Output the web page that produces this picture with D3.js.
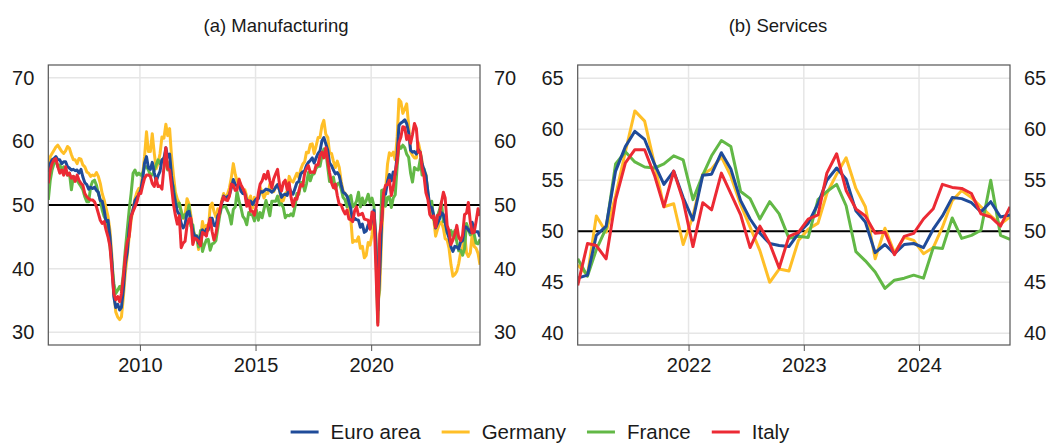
<!DOCTYPE html>
<html>
<head>
<meta charset="utf-8">
<script src="https://cdn.jsdelivr.net/npm/d3@7"></script>
<style>
  body { margin: 0; background: #fff; }
  svg { display: block; font-family: "Liberation Sans", Arial, sans-serif; }
</style>
</head>
<body>
<svg id="chart" width="1049" height="444"></svg>
<script>
// series names and colours (legend order)
var seriesNames = ["Euro area", "Germany", "France", "Italy"];
var seriesColors = ["#1f4b99", "#ffbf27", "#62b846", "#ec2a34"];

// (a) Manufacturing PMI, monthly from Jan 2006
var mfgStart = new Date(2006, 0, 15);
var mfgEuroArea = [
  55.2, 56.5, 57.1, 57.3, 57.6, 57.1, 57.1, 56.5, 56.8, 56.8, 56.0, 55.8,
  55.5, 55.6, 55.4, 55.5, 55.0, 55.6, 54.4, 53.5, 53.2, 52.5, 52.8, 52.6,
  52.8, 52.3, 52.0, 50.7, 50.6, 49.2, 47.4, 47.6, 45.0, 41.1, 35.6, 33.9,
  34.4, 33.5, 33.9, 36.8, 40.7, 42.6, 46.3, 48.2, 49.3, 50.7, 51.2, 51.6,
  52.4, 54.2, 56.6, 57.6, 55.8, 55.6, 56.7, 55.1, 53.7, 54.6, 55.3, 57.1,
  57.3, 59.0, 57.5, 58.0, 54.6, 52.0, 50.4, 49.0, 48.5, 47.1, 46.4, 46.9,
  48.8, 49.0, 47.7, 45.9, 45.1, 45.1, 44.0, 45.1, 46.1, 45.4, 46.2, 46.1,
  47.9, 47.9, 46.8, 46.7, 48.3, 48.8, 50.3, 51.4, 51.1, 51.3, 51.6, 52.7,
  54.0, 53.2, 53.0, 53.4, 52.2, 51.8, 51.8, 50.7, 50.3, 50.6, 50.1, 50.6,
  51.0, 51.0, 52.2, 52.0, 52.2, 52.5, 52.4, 52.3, 52.0, 52.3, 52.8, 53.2,
  52.3, 51.2, 51.6, 51.7, 51.5, 52.8, 52.0, 51.7, 52.6, 53.5, 53.7, 54.9,
  55.2, 55.4, 56.2, 56.7, 57.0, 57.4, 56.6, 57.4, 58.1, 58.5, 60.1, 60.6,
  59.6, 58.6, 56.6, 56.2, 55.5, 54.9, 55.1, 54.6, 53.2, 52.0, 51.8, 51.4,
  50.5, 49.3, 47.5, 47.9, 47.7, 47.6, 46.5, 47.0, 45.7, 45.9, 46.9, 46.3,
  47.9, 49.2, 44.5, 33.4, 39.4, 47.4, 51.8, 51.7, 53.7, 54.8, 53.8, 55.2,
  54.8, 57.9, 62.5, 62.9, 63.1, 63.4, 62.8, 61.4, 58.6, 58.3, 58.4, 58.0,
  58.7, 58.2, 56.5, 55.5, 54.6, 52.1, 49.8, 49.6, 48.4, 46.4, 47.1, 47.8,
  48.8, 48.5, 47.3, 45.8, 44.8, 43.4, 42.7, 43.5, 43.4, 43.1, 44.2, 44.4,
  46.6, 46.5, 46.1, 45.7, 47.3, 45.8, 45.8, 45.8, 45.0
];
var mfgGermany = [
  56.0, 57.6, 58.1, 58.6, 59.1, 59.4, 58.9, 58.4, 58.1, 58.5, 59.2, 58.9,
  57.9, 57.1, 57.1, 56.5, 57.3, 57.2, 56.3, 56.0, 55.2, 55.0, 54.5, 54.7,
  54.6, 55.1, 54.5, 53.4, 51.8, 50.8, 49.5, 48.2, 46.0, 42.0, 36.5, 33.2,
  32.4, 32.0, 32.4, 35.6, 39.3, 42.0, 45.0, 47.6, 49.4, 51.0, 52.0, 52.6,
  52.7, 55.0, 57.6, 61.5, 58.4, 58.4, 61.2, 58.2, 55.7, 56.6, 58.1, 60.7,
  60.5, 62.7, 60.9, 62.0, 57.7, 54.6, 52.0, 50.9, 50.3, 49.1, 47.9, 48.4,
  51.0, 50.2, 48.4, 46.2, 45.2, 45.0, 43.0, 44.7, 47.4, 46.0, 46.8, 46.0,
  49.8, 50.3, 49.0, 48.1, 49.4, 48.6, 50.7, 51.8, 51.1, 51.7, 52.7, 54.3,
  56.5, 54.8, 53.7, 54.1, 52.3, 52.0, 52.4, 51.4, 49.9, 51.4, 49.5, 51.2,
  50.9, 51.1, 52.8, 52.0, 51.1, 51.9, 51.8, 53.3, 52.3, 52.1, 52.9, 53.2,
  52.3, 50.5, 50.7, 51.8, 52.1, 54.5, 53.8, 53.6, 54.3, 55.0, 54.3, 55.6,
  56.4, 56.8, 58.3, 58.2, 59.5, 59.6, 58.1, 59.3, 60.6, 60.6, 62.5, 63.3,
  61.1, 60.6, 58.2, 58.1, 56.9, 55.9, 56.9, 55.9, 53.7, 52.2, 51.8, 51.5,
  49.7, 47.6, 44.1, 44.4, 44.3, 45.0, 43.2, 43.5, 41.7, 42.1, 44.1, 43.7,
  45.3, 48.0, 45.4, 34.5, 36.6, 45.2, 51.0, 52.2, 56.4, 58.2, 57.8, 58.3,
  57.1, 60.7, 66.6, 66.2, 64.4, 65.1, 65.9, 62.6, 58.4, 57.8, 57.4, 57.4,
  59.8, 58.4, 56.9, 54.6, 54.8, 52.0, 49.3, 49.1, 47.8, 45.1, 46.2, 47.1,
  47.3, 46.3, 44.7, 44.5, 43.2, 40.6, 38.8, 39.1, 39.6, 40.8, 42.6, 43.3,
  45.5, 42.5, 41.9, 42.5, 45.4, 43.5, 43.2, 42.4, 40.6
];
var mfgFrance = [
  50.8, 53.9, 55.5, 56.5, 57.1, 56.0, 56.3, 55.5, 56.0, 55.2, 54.7, 55.0,
  52.4, 54.5, 54.2, 53.9, 53.4, 52.9, 52.4, 51.3, 50.5, 50.5, 52.9, 53.7,
  53.9, 53.1, 51.8, 50.8, 49.2, 48.2, 47.6, 46.1, 43.5, 40.8, 37.7, 36.1,
  36.6, 37.2, 36.6, 39.3, 42.9, 46.1, 49.2, 51.8, 55.0, 55.5, 54.7, 55.0,
  54.7, 55.0, 56.0, 56.0, 55.5, 54.7, 54.7, 55.5, 56.3, 57.1, 56.5, 57.0,
  57.4, 56.5, 55.5, 56.8, 53.8, 52.9, 50.8, 49.7, 50.3, 48.9, 48.0, 48.5,
  48.5, 50.0, 46.7, 46.9, 44.7, 45.2, 43.4, 46.0, 42.7, 43.7, 44.5, 44.6,
  42.9, 43.9, 44.0, 44.4, 46.4, 48.4, 49.7, 49.7, 49.8, 49.1, 48.4, 47.0,
  49.3, 49.7, 52.1, 50.6, 49.6, 48.2, 47.8, 46.9, 48.8, 48.5, 48.4, 47.5,
  49.2, 47.6, 48.8, 48.0, 49.4, 50.7, 49.6, 48.3, 50.6, 50.6, 50.6, 51.4,
  50.0, 50.2, 49.6, 48.0, 48.4, 48.3, 48.6, 48.3, 49.7, 51.8, 51.7, 53.5,
  53.6, 52.2, 53.3, 55.1, 53.8, 54.8, 54.9, 55.8, 56.1, 56.1, 57.7, 58.8,
  58.4, 55.9, 53.7, 53.8, 54.4, 52.5, 53.3, 53.5, 52.5, 51.2, 50.8, 49.7,
  51.2, 51.5, 49.7, 50.0, 50.6, 52.0, 49.7, 51.1, 50.1, 50.7, 51.7, 50.4,
  51.1, 49.8, 43.2, 31.5, 40.6, 52.3, 52.4, 49.8, 51.2, 51.3, 49.6, 51.1,
  51.6, 56.1, 59.3, 58.9, 59.4, 59.0, 58.0, 57.5, 55.0, 53.6, 55.9, 55.6,
  55.5, 57.2, 54.7, 55.7, 54.6, 51.4, 49.5, 50.6, 47.7, 47.2, 48.3, 49.2,
  50.5, 47.4, 47.3, 45.6, 45.7, 46.0, 45.1, 46.0, 44.2, 42.8, 42.9, 42.1,
  43.1, 47.1, 46.2, 45.3, 46.4, 45.4, 44.0, 43.9, 44.6
];
var mfgItaly = [
  53.4, 55.5, 56.5, 57.1, 57.3, 56.0, 55.0, 55.5, 54.7, 56.0, 54.7, 55.0,
  54.2, 54.5, 53.7, 54.7, 53.9, 53.4, 53.1, 51.8, 51.3, 51.0, 50.8, 50.8,
  50.5, 49.7, 48.7, 47.6, 47.1, 47.4, 46.1, 45.0, 43.5, 39.8, 36.1, 35.1,
  35.6, 34.8, 36.1, 38.7, 41.9, 44.2, 45.0, 48.2, 49.0, 49.7, 50.5, 51.8,
  51.8, 53.1, 54.2, 54.7, 54.7, 54.5, 53.4, 52.9, 54.2, 52.9, 53.0, 52.5,
  55.9, 59.0, 55.7, 55.5, 52.9, 50.1, 48.4, 47.0, 48.3, 43.3, 44.0, 44.3,
  46.8, 47.8, 47.9, 43.8, 44.8, 44.6, 44.3, 43.6, 45.7, 45.5, 45.1, 46.7,
  47.8, 45.8, 44.5, 45.5, 47.3, 49.1, 50.4, 51.3, 50.8, 50.7, 51.4, 53.3,
  53.1, 52.3, 52.4, 54.0, 53.2, 52.6, 51.9, 49.8, 50.7, 49.0, 49.0, 48.4,
  49.9, 51.9, 53.3, 53.8, 54.8, 54.1, 55.3, 53.8, 52.7, 54.1, 54.9, 55.6,
  53.2, 52.2, 53.5, 53.9, 52.4, 53.5, 51.2, 49.8, 51.0, 50.9, 52.2, 53.2,
  53.0, 55.0, 55.7, 56.2, 55.1, 55.2, 55.1, 56.3, 56.3, 57.8, 58.3, 57.4,
  59.0, 56.8, 55.1, 53.5, 52.7, 53.3, 51.5, 50.1, 50.0, 49.2, 48.6, 49.2,
  47.8, 47.7, 47.4, 49.1, 49.7, 48.4, 48.5, 48.7, 47.8, 47.7, 47.6, 46.2,
  48.9, 48.7, 40.3, 31.1, 45.4, 47.5, 51.9, 53.1, 53.2, 53.9, 51.5, 52.8,
  55.1, 56.9, 59.8, 60.7, 62.3, 62.2, 60.3, 60.9, 59.7, 61.1, 62.8, 62.0,
  58.3, 58.3, 55.8, 54.5, 51.9, 50.9, 48.5, 48.0, 48.3, 46.5, 48.4, 48.5,
  50.4, 52.0, 51.1, 46.8, 45.9, 43.8, 44.5, 45.4, 46.8, 44.9, 44.4, 45.3,
  48.5, 48.7, 50.4, 47.3, 45.6, 45.7, 47.4, 49.4, 48.3
];

// (b) Services PMI, monthly from Jan 2021
var svcStart = new Date(2021, 0, 15);
var svcEuroArea = [
  45.4, 45.7, 49.6, 50.5, 55.9, 58.3, 59.8, 59.0, 56.6, 54.6, 55.9, 53.3,
  51.1, 55.5, 55.6, 57.7, 56.1, 53.0, 51.2, 49.8, 48.8, 48.6, 48.5, 49.8,
  50.8, 52.7, 55.0, 56.2, 55.1, 52.0, 50.9, 47.9, 48.7, 47.8, 48.7, 48.8,
  48.4, 50.2, 51.5, 53.3, 53.2, 52.8, 51.9, 52.9, 51.4, 51.6
];
var svcGermany = [
  46.7, 45.7, 51.5, 49.9, 53.5, 57.8, 61.8, 60.8, 56.6, 52.4, 52.7, 48.7,
  51.5, 55.6, 56.1, 57.3, 55.4, 52.6, 50.4, 48.1, 45.0, 46.3, 46.1, 49.1,
  50.2, 50.8, 53.7, 55.6, 57.2, 54.2, 52.4, 47.3, 50.3, 47.9, 49.4, 49.1,
  47.8, 48.4, 50.4, 53.0, 54.0, 53.3, 52.4, 51.5, 50.7, 51.4
];
var svcFrance = [
  47.3, 45.6, 48.2, 50.3, 56.6, 57.8, 56.8, 56.3, 56.2, 56.6, 57.4, 57.0,
  53.1, 55.5, 57.4, 58.9, 58.3, 53.9, 53.2, 51.2, 52.9, 51.7, 49.3, 49.5,
  49.4, 53.1, 53.9, 54.6, 52.5, 48.0, 47.1, 46.0, 44.4, 45.2, 45.4, 45.7,
  45.4, 48.4, 48.3, 51.3, 49.3, 49.6, 50.1, 55.0, 49.6, 49.2
];
var svcItaly = [
  44.7, 48.8, 48.6, 47.3, 53.1, 56.7, 58.0, 58.0, 55.5, 52.4, 55.9, 53.0,
  48.5, 52.8, 52.1, 55.7, 53.7, 51.6, 48.4, 50.5, 48.8, 46.4, 49.5, 49.9,
  51.2, 51.6, 55.7, 57.6, 54.0, 52.2, 51.5, 49.8, 49.9, 47.7, 49.5, 49.8,
  51.2, 52.2, 54.6, 54.3, 54.2, 53.7, 51.7, 51.4, 50.5, 52.4
];

// axis ticks
var mfgTicksY = [30, 40, 50, 60, 70];
var svcTicksY = [40, 45, 50, 55, 60, 65];
var mfgTicksX = [2010, 2015, 2020];
var svcTicksX = [2022, 2023, 2024];

var svg = d3.select("#chart");
var top0 = 65, bottom0 = 345;

function monthDates(start, n) {
  return d3.range(n).map(function(i) { return d3.timeMonth.offset(start, i); });
}

function drawPanel(p) {
  var dates = monthDates(p.start, p.series[0].length);
  var x = d3.scaleTime().domain([dates[0], dates[dates.length - 1]]).range([p.x0, p.x1]);
  var y = d3.scaleLinear().domain(p.yDomain).range([bottom0, top0]);
  var w = p.x1 - p.x0, h = bottom0 - top0;
  var g = svg.append("g");

  // gridlines
  g.append("g").selectAll("line").data(p.ticksY).enter().append("line")
    .attr("x1", p.x0).attr("x2", p.x1)
    .attr("y1", function(d) { return y(d); }).attr("y2", function(d) { return y(d); })
    .attr("stroke", "#e6e6e6").attr("stroke-width", 1.5);
  g.append("g").selectAll("line").data(p.ticksX).enter().append("line")
    .attr("x1", function(d) { return x(new Date(d, 0, 1)); })
    .attr("x2", function(d) { return x(new Date(d, 0, 1)); })
    .attr("y1", top0).attr("y2", bottom0)
    .attr("stroke", "#e6e6e6").attr("stroke-width", 1.5);

  // 50 line
  g.append("line")
    .attr("x1", p.x0).attr("x2", p.x1).attr("y1", y(50)).attr("y2", y(50))
    .attr("stroke", "#000").attr("stroke-width", 2);

  // lines
  var clipId = "clip" + p.id;
  svg.append("clipPath").attr("id", clipId).append("rect")
    .attr("x", p.x0).attr("y", top0).attr("width", w).attr("height", h);
  var line = d3.line()
    .x(function(d, i) { return x(dates[i]); })
    .y(function(d) { return y(d); });
  var order = [1, 2, 0, 3];
  order.forEach(function(k) {
    g.append("path")
      .attr("clip-path", "url(#" + clipId + ")")
      .attr("d", line(p.series[k]))
      .attr("fill", "none")
      .attr("stroke", seriesColors[k])
      .attr("stroke-width", 3)
      .attr("stroke-linejoin", "round");
  });

  // frame
  g.append("rect")
    .attr("x", p.x0).attr("y", top0).attr("width", w).attr("height", h)
    .attr("fill", "none").attr("stroke", "#555").attr("stroke-width", 1.2);

  // axes
  var ax = g.append("g").attr("transform", "translate(0," + bottom0 + ")")
    .call(d3.axisBottom(x)
      .tickValues(p.ticksX.map(function(d) { return new Date(d, 0, 1); }))
      .tickFormat(d3.timeFormat("%Y")).tickSize(6).tickPadding(7));
  var ay1 = g.append("g").attr("transform", "translate(" + p.x0 + ",0)")
    .call(d3.axisLeft(y).tickValues(p.ticksY).tickSize(0).tickPadding(14));
  var ay2 = g.append("g").attr("transform", "translate(" + p.x1 + ",0)")
    .call(d3.axisRight(y).tickValues(p.ticksY).tickSize(0).tickPadding(14));
  [ax, ay1, ay2].forEach(function(a) {
    a.select(".domain").remove();
    a.selectAll("text").attr("font-size", 20).attr("fill", "#1a1a1a")
      .attr("font-family", "Liberation Sans, Arial, sans-serif");
    a.selectAll("line").attr("stroke", "#555");
  });

  // title
  svg.append("text")
    .attr("x", p.titleX).attr("y", 32)
    .attr("text-anchor", "middle")
    .attr("font-size", 18.5).attr("fill", "#1a1a1a")
    .text(p.title);
}

drawPanel({
  id: "a", title: "(a) Manufacturing", titleX: 276,
  start: mfgStart, series: [mfgEuroArea, mfgGermany, mfgFrance, mfgItaly],
  x0: 48.3, x1: 480, yDomain: [28, 72], ticksY: mfgTicksY, ticksX: mfgTicksX
});
drawPanel({
  id: "b", title: "(b) Services", titleX: 778,
  start: svcStart, series: [svcEuroArea, svcGermany, svcFrance, svcItaly],
  x0: 577.7, x1: 1010, yDomain: [38.85, 66.3], ticksY: svcTicksY, ticksX: svcTicksX
});

// legend
var legend = svg.append("g");
var lx = 0;
seriesNames.forEach(function(name, k) {
  var item = legend.append("g").attr("transform", "translate(" + lx + ",0)");
  item.append("line").attr("x1", 0).attr("x2", 28).attr("y1", 0).attr("y2", 0)
    .attr("stroke", seriesColors[k]).attr("stroke-width", 3);
  var t = item.append("text").attr("x", 40).attr("y", 7)
    .attr("font-size", 20.5).attr("fill", "#1a1a1a").text(name);
  lx += 40 + t.node().getComputedTextLength() + 21;
});
legend.attr("transform", "translate(" + (540 - (lx - 21) / 2) + ",432)");
</script>
</body>
</html>
